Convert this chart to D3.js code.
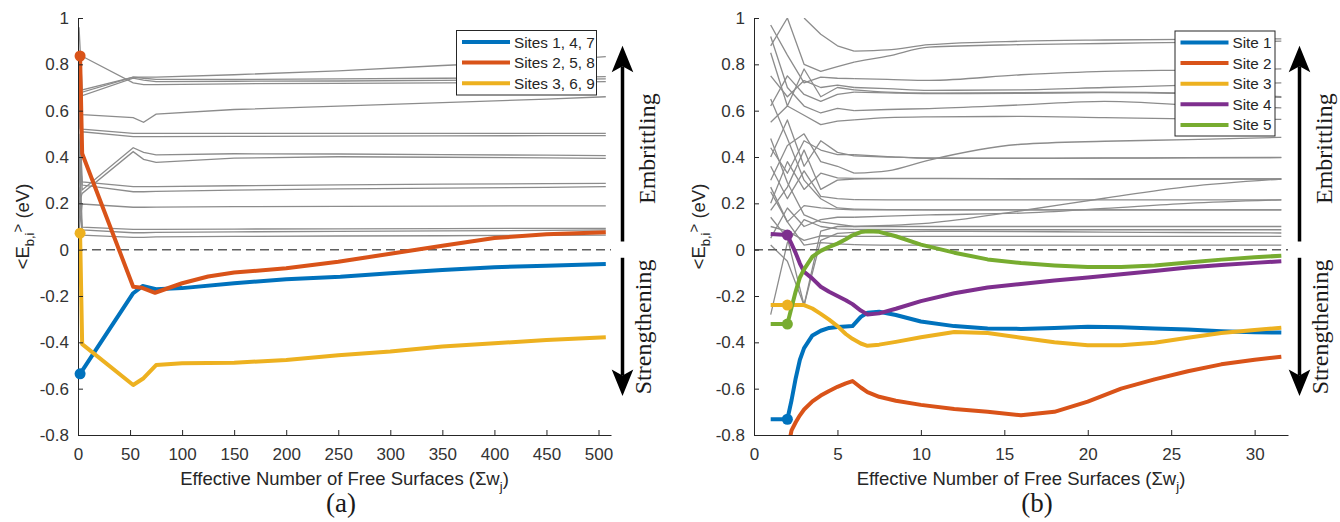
<!DOCTYPE html>
<html>
<head>
<meta charset="utf-8">
<script src="https://cdn.jsdelivr.net/npm/d3@7/dist/d3.min.js"></script>
<style>
html,body{margin:0;padding:0;background:#fff;}
svg{display:block;}
</style>
</head>
<body>
<svg id="chart" width="1340" height="522" xmlns="http://www.w3.org/2000/svg"></svg>
<script>
// ---------------- data ----------------
const yTicks = [-0.8, -0.6, -0.4, -0.2, 0, 0.2, 0.4, 0.6, 0.8, 1];
const yTickLabels = ["-0.8", "-0.6", "-0.4", "-0.2", "0", "0.2", "0.4", "0.6", "0.8", "1"];
const aXTicks = [0, 50, 100, 150, 200, 250, 300, 350, 400, 450, 500];
const bXTicks = [0, 5, 10, 15, 20, 25, 30];
const aLegend = ["Sites 1, 4, 7", "Sites 2, 5, 8", "Sites 3, 6, 9"];
const bLegend = ["Site 1", "Site 2", "Site 3", "Site 4", "Site 5"];

// panel (a) background sites (grey)
const aGrayX = [1, 4, 53, 63, 75, 150, 250, 350, 450, 507];
const aGray = [
  [0.96, 0.69, 0.745, 0.745, 0.745, 0.755, 0.772, 0.795, 0.815, 0.833],
  [0.30, 0.68, 0.745, 0.74, 0.735, 0.735, 0.737, 0.74, 0.743, 0.747],
  [0.52, 0.665, 0.74, 0.732, 0.725, 0.727, 0.728, 0.731, 0.734, 0.737],
  [0.84, 0.835, 0.72, 0.712, 0.712, 0.716, 0.718, 0.72, 0.722, 0.725],
  [0.59, 0.583, 0.57, 0.55, 0.585, 0.605, 0.62, 0.635, 0.65, 0.66],
  [0.69, 0.52, 0.502, 0.502, 0.502, 0.502, 0.502, 0.502, 0.502, 0.502],
  [0.10, 0.509, 0.488, 0.488, 0.488, 0.489, 0.49, 0.491, 0.492, 0.492],
  [0.65, 0.258, 0.44, 0.42, 0.409, 0.414, 0.413, 0.41, 0.408, 0.406],
  [0.20, 0.243, 0.423, 0.39, 0.377, 0.395, 0.401, 0.399, 0.396, 0.394],
  [0.41, 0.293, 0.272, 0.272, 0.272, 0.276, 0.28, 0.283, 0.285, 0.286],
  [0.72, 0.279, 0.25, 0.25, 0.252, 0.257, 0.262, 0.266, 0.269, 0.272],
  [0.08, 0.197, 0.183, 0.183, 0.184, 0.186, 0.187, 0.188, 0.189, 0.189],
  [0.50, 0.097, 0.088, 0.088, 0.088, 0.089, 0.09, 0.091, 0.092, 0.092],
  [0.27, 0.085, 0.073, 0.073, 0.075, 0.077, 0.079, 0.081, 0.083, 0.085],
  [0.35, 0.063, 0.053, 0.053, 0.055, 0.057, 0.059, 0.06, 0.062, 0.063]
];
// panel (a) highlighted sites
const aSite147X = [2, 53, 62, 75, 100, 150, 200, 252, 300, 350, 400, 450, 507];
const aSite147Y = [-0.536, -0.188, -0.157, -0.171, -0.166, -0.145, -0.128, -0.117, -0.102, -0.088, -0.076, -0.069, -0.062];
const aSite258X = [2, 4, 53, 61, 74, 100, 125, 150, 200, 250, 275, 300, 325, 350, 400, 450, 507];
const aSite258Y = [0.836, 0.415, -0.16, -0.164, -0.186, -0.145, -0.116, -0.099, -0.08, -0.052, -0.035, -0.018, 0.0, 0.017, 0.05, 0.067, 0.075];
const aSite369X = [2, 4, 53, 63, 75, 100, 150, 200, 250, 300, 350, 400, 450, 507];
const aSite369Y = [0.071, -0.408, -0.584, -0.555, -0.498, -0.49, -0.488, -0.476, -0.456, -0.44, -0.418, -0.404, -0.39, -0.378];

// panel (b) background sites (grey)
const bGrayX = [1, 2, 3, 4, 5, 6, 8, 10.5, 16, 21, 26, 31.6];
const bGray = [
  [null, null, 1.0, 0.93, 0.88, 0.857, 0.862, 0.885, 0.90, 0.905, 0.908, 0.91],
  [0.88, 1.0, 0.80, 0.77, 0.79, 0.81, 0.835, 0.874, 0.885, 0.89, 0.895, 0.90],
  [0.97, 0.84, 0.72, 0.745, 0.74, 0.738, 0.735, 0.731, 0.755, 0.77, 0.775, 0.78],
  [0.75, 0.66, 0.73, 0.70, 0.71, 0.70, 0.695, 0.688, 0.69, 0.70, 0.71, 0.72],
  [0.62, 0.75, 0.67, 0.64, 0.67, 0.68, 0.677, 0.674, 0.675, 0.678, 0.674, 0.657],
  [0.92, 0.70, 0.62, 0.59, 0.61, 0.60, 0.605, 0.609, 0.625, 0.64, 0.625, 0.612],
  [0.55, 0.62, 0.58, 0.54, 0.555, 0.56, 0.57, 0.573, 0.575, 0.57, 0.565, 0.562],
  [0.30, 0.45, 0.50, 0.38, 0.36, 0.33, 0.34, 0.387, 0.455, 0.468, 0.475, 0.485],
  [0.44, 0.33, 0.47, 0.43, 0.41, 0.41, 0.402, 0.394, 0.394, 0.395, 0.396, 0.397],
  [0.20, 0.38, 0.26, 0.33, 0.31, 0.308, 0.308, 0.308, 0.306, 0.305, 0.305, 0.305],
  [0.14, 0.05, -0.24, 0.08, 0.10, 0.10, 0.105, 0.115, 0.168, 0.222, 0.272, 0.305],
  [0.36, 0.22, 0.34, 0.23, 0.22, 0.216, 0.215, 0.215, 0.215, 0.215, 0.215, 0.215],
  [0.05, 0.18, 0.10, 0.13, 0.14, 0.14, 0.145, 0.15, 0.158, 0.178, 0.20, 0.215],
  [0.25, 0.12, 0.19, 0.18, 0.175, 0.172, 0.172, 0.172, 0.172, 0.172, 0.172, 0.172],
  [0.48, 0.29, 0.15, 0.12, 0.11, 0.10, 0.10, 0.10, 0.10, 0.10, 0.10, 0.10],
  [-0.28, 0.03, 0.13, 0.10, 0.09, 0.088, 0.087, 0.086, 0.086, 0.086, 0.086, 0.086],
  [0.02, -0.05, -0.24, 0.04, 0.07, 0.075, 0.078, 0.079, 0.078, 0.076, 0.074, 0.072],
  [0.10, 0.08, 0.04, 0.06, 0.058, 0.057, 0.057, 0.057, 0.057, 0.057, 0.057, 0.057],
  [0.27, 0.12, 0.02, 0.03, 0.025, 0.022, 0.02, 0.02, 0.02, 0.02, 0.02, 0.02],
  [0.85, 0.62, 0.78, 0.66, 0.70, 0.69, 0.68, 0.676, 0.678, 0.68, 0.676, 0.66],
  [0.40, 0.56, 0.36, 0.47, 0.42, 0.405, 0.40, 0.396, 0.395, 0.396, 0.397, 0.398],
  [0.17, 0.27, 0.43, 0.26, 0.30, 0.305, 0.307, 0.307, 0.306, 0.305, 0.305, 0.305],
  [0.65, 0.48, 0.30, 0.22, 0.18, 0.175, 0.173, 0.172, 0.172, 0.172, 0.172, 0.172]
];
// panel (b) highlighted sites (common x grid)
const bSiteX = [1, 2, 2.25, 2.5, 2.75, 3, 3.5, 4, 4.5, 5, 5.5, 5.9, 6.4, 6.8, 7.5, 8.5, 10, 12, 14, 16, 18, 20, 22, 24, 26, 28, 30, 31.6];
const bSite1 = [-0.732, -0.732, -0.65, -0.555, -0.475, -0.425, -0.37, -0.35, -0.338, -0.334, -0.332, -0.33, -0.29, -0.272, -0.268, -0.282, -0.31, -0.33, -0.34, -0.342, -0.338, -0.333, -0.335, -0.34, -0.345, -0.352, -0.356, -0.358];
const bSite2 = [null, -0.87, -0.78, -0.745, -0.715, -0.69, -0.655, -0.63, -0.61, -0.592, -0.577, -0.567, -0.595, -0.615, -0.635, -0.652, -0.67, -0.688, -0.70, -0.715, -0.70, -0.656, -0.60, -0.56, -0.525, -0.495, -0.475, -0.462];
const bSite3 = [-0.239, -0.239, -0.239, -0.239, -0.239, -0.239, -0.254, -0.277, -0.302, -0.33, -0.364, -0.385, -0.405, -0.415, -0.41, -0.398, -0.378, -0.355, -0.36, -0.38, -0.40, -0.413, -0.413, -0.402, -0.38, -0.36, -0.347, -0.337];
const bSite4 = [0.068, 0.063, 0.025, -0.015, -0.06, -0.095, -0.125, -0.16, -0.182, -0.2, -0.218, -0.235, -0.263, -0.28, -0.275, -0.255, -0.222, -0.188, -0.163, -0.148, -0.133, -0.12, -0.106, -0.092, -0.077, -0.066, -0.057, -0.05];
const bSite5 = [-0.321, -0.321, -0.25, -0.18, -0.12, -0.085, -0.03, -0.005, 0.012, 0.026, 0.045, 0.062, 0.076, 0.079, 0.077, 0.058, 0.022, -0.013, -0.042, -0.058, -0.068, -0.075, -0.075, -0.068, -0.055, -0.043, -0.033, -0.026];
// x value at which each site's starting marker is drawn
const markerX = 2;

// ---------------- style ----------------
const SANS = "'Liberation Sans', Arial, Helvetica, sans-serif";
const SERIF = "'Liberation Serif', 'Times New Roman', serif";
const INK = "#262626";
const GREY = "#8c8c8c";
const siteColors = ["#0072BD", "#D95319", "#EDB120", "#7E2F8E", "#77AC30"];
const TICK_FS = 17, LABEL_FS = 18.5, LEGEND_FS = 15.3;

const svg = d3.select("#chart");
const defs = svg.append("defs");
const y = d3.scaleLinear().domain([-0.8, 1]).range([435, 18]);

function drawPanel(p) {
  const x = d3.scaleLinear().domain(p.xDomain).range(p.xRange);
  const g = svg.append("g");
  const clipId = "clip-" + p.id;
  defs.append("clipPath").attr("id", clipId)
    .append("rect")
    .attr("x", p.xRange[0]).attr("y", y.range()[1])
    .attr("width", p.xRange[1] - p.xRange[0])
    .attr("height", y.range()[0] - y.range()[1]);
  const plot = g.append("g").attr("clip-path", `url(#${clipId})`);
  const line = d3.line().defined(d => d[1] != null).x(d => x(d[0])).y(d => y(d[1]));
  const smoothLine = d3.line().defined(d => d[1] != null).x(d => x(d[0])).y(d => y(d[1]))
    .curve(d3.curveMonotoneX);

  p.gray.forEach(vals => {
    const pts = p.grayX.map((xv, i) => [xv, vals[i]]);
    if (p.smoothFrom == null) {
      plot.append("path").datum(pts).attr("d", line).attr("fill", "none")
        .attr("stroke", GREY).attr("stroke-width", 1.3);
    } else {
      // crossing region drawn segment by segment, settled region drawn smooth
      const head = pts.filter(d => d[0] <= p.smoothFrom);
      const tail = pts.filter(d => d[0] >= p.smoothFrom);
      plot.append("path").datum(head).attr("d", line).attr("fill", "none")
        .attr("stroke", GREY).attr("stroke-width", 1.3).attr("stroke-linejoin", "round");
      plot.append("path").datum(tail).attr("d", smoothLine).attr("fill", "none")
        .attr("stroke", GREY).attr("stroke-width", 1.3);
    }
  });

  plot.append("line")
    .attr("x1", x(p.xDomain[0])).attr("x2", x(p.xDomain[1]))
    .attr("y1", y(0)).attr("y2", y(0))
    .attr("stroke", "#5e5e5e").attr("stroke-width", 1.5)
    .attr("stroke-dasharray", "9,5");

  p.sites.forEach((s, i) => {
    plot.append("path")
      .datum(s.x.map((xv, j) => [xv, s.y[j]]))
      .attr("d", line).attr("fill", "none")
      .attr("stroke", siteColors[i]).attr("stroke-width", 4)
      .attr("stroke-linejoin", "round");
  });

  // axes
  const xAxis = g.append("g")
    .attr("transform", `translate(0,${y(-0.8)})`)
    .call(d3.axisBottom(x).tickValues(p.xTicks).tickFormat(d3.format("d"))
      .tickSizeInner(-5).tickSizeOuter(0).tickPadding(13));
  const yAxis = g.append("g")
    .attr("transform", `translate(${p.xRange[0]},0)`)
    .call(d3.axisLeft(y).tickValues(yTicks).tickFormat((d, i) => yTickLabels[i])
      .tickSizeInner(-5).tickSizeOuter(0).tickPadding(9));
  [xAxis, yAxis].forEach(a => {
    a.attr("font-family", SANS).attr("font-size", TICK_FS);
    a.select(".domain").attr("stroke", INK).attr("stroke-width", 1);
    a.selectAll(".tick line").attr("stroke", INK).attr("stroke-width", 1);
    a.selectAll(".tick text").attr("fill", "#333");
  });

  // start markers
  p.sites.forEach((s, i) => {
    const j = s.x.indexOf(markerX);
    const v = s.y[j];
    if (v == null || v < y.domain()[0] || v > y.domain()[1]) return;
    g.append("circle").attr("cx", x(markerX)).attr("cy", y(v)).attr("r", 5.5)
      .attr("fill", siteColors[i]);
  });

  // axis labels
  const mid = (p.xRange[0] + p.xRange[1]) / 2;
  const xl = g.append("text").attr("x", mid).attr("y", 485)
    .attr("text-anchor", "middle").attr("font-family", SANS)
    .attr("font-size", LABEL_FS).attr("fill", INK);
  xl.append("tspan").text("Effective Number of Free Surfaces (\u03A3w");
  xl.append("tspan").attr("font-size", 13).attr("dy", 6).text("j");
  xl.append("tspan").attr("dy", -6).text(")");

  const yl = g.append("text")
    .attr("transform", `translate(${p.xRange[0] - 49},${(y.range()[0] + y.range()[1]) / 2}) rotate(-90)`)
    .attr("text-anchor", "middle").attr("font-family", SANS)
    .attr("font-size", LABEL_FS).attr("fill", INK);
  yl.append("tspan").text("<E");
  yl.append("tspan").attr("font-size", 13).attr("dy", 5).text("b,i");
  yl.append("tspan").attr("font-size", 15).attr("dy", -11).text(">");
  yl.append("tspan").attr("dy", 6).text("\u00A0(eV)");

  // legend
  const lg = g.append("g").attr("transform", `translate(${p.legend.x},${p.legend.y})`);
  lg.append("rect").attr("width", p.legend.w).attr("height", p.legend.h)
    .attr("fill", "#fff").attr("stroke", INK).attr("stroke-width", 1);
  p.legendLabels.forEach((t, i) => {
    const yy = 11.5 + i * 20.6;
    lg.append("line").attr("x1", 5.5).attr("x2", 53.5).attr("y1", yy).attr("y2", yy)
      .attr("stroke", siteColors[i]).attr("stroke-width", 4);
    lg.append("text").attr("x", 57.5).attr("y", yy).attr("dy", "0.36em")
      .attr("font-family", SANS).attr("font-size", LEGEND_FS).attr("fill", INK).text(t);
  });

  // annotation arrows
  const axr = p.xRange[1] + 11.5;
  drawArrow(g, axr, y(0.035), y(0.88));
  drawArrow(g, axr, y(-0.035), y(-0.632));
  g.append("text")
    .attr("transform", `translate(${axr + 32.5},${(y(0.035) + y(0.88)) / 2 + 5}) rotate(-90)`)
    .attr("text-anchor", "middle").attr("font-family", SERIF).attr("font-size", 24)
    .attr("fill", "#1a1a1a").text("Embrittling");
  g.append("text")
    .attr("transform", `translate(${axr + 28.5},${(y(-0.035) + y(-0.632)) / 2}) rotate(-90)`)
    .attr("text-anchor", "middle").attr("font-family", SERIF).attr("font-size", 24)
    .attr("fill", "#1a1a1a").text("Strengthening");

  // panel tag
  g.append("text").attr("x", p.tagX).attr("y", 512).attr("text-anchor", "middle")
    .attr("font-family", SERIF).attr("font-size", 27).attr("fill", "#1a1a1a").text(p.tag);
}

function drawArrow(g, xp, yTail, yTip) {
  const dir = yTip < yTail ? -1 : 1;
  const headLen = 26.5, half = 10.8, notch = 6;
  g.append("line").attr("x1", xp).attr("x2", xp)
    .attr("y1", yTail).attr("y2", yTip - dir * (headLen - notch))
    .attr("stroke", "#000").attr("stroke-width", 3.5);
  const p = d3.path();
  p.moveTo(xp, yTip);
  p.lineTo(xp - half, yTip - dir * headLen);
  p.lineTo(xp, yTip - dir * (headLen - notch));
  p.lineTo(xp + half, yTip - dir * headLen);
  p.closePath();
  g.append("path").attr("d", p.toString()).attr("fill", "#000");
}

drawPanel({
  id: "a", xDomain: [0, 512], xRange: [78, 611], xTicks: aXTicks,
  grayX: aGrayX, gray: aGray, smoothFrom: null,
  sites: [
    { x: aSite147X, y: aSite147Y },
    { x: aSite258X, y: aSite258Y },
    { x: aSite369X, y: aSite369Y }
  ],
  legendLabels: aLegend,
  legend: { x: 456.5, y: 30.5, w: 140, h: 64.5 },
  tag: "(a)", tagX: 341
});

drawPanel({
  id: "b", xDomain: [0, 32], xRange: [754, 1288], xTicks: bXTicks,
  grayX: bGrayX, gray: bGray, smoothFrom: 6,
  sites: [
    { x: bSiteX, y: bSite1 },
    { x: bSiteX, y: bSite2 },
    { x: bSiteX, y: bSite3 },
    { x: bSiteX, y: bSite4 },
    { x: bSiteX, y: bSite5 }
  ],
  legendLabels: bLegend,
  legend: { x: 1175, y: 31, w: 100, h: 105 },
  tag: "(b)", tagX: 1037
});
</script>
</body>
</html>
